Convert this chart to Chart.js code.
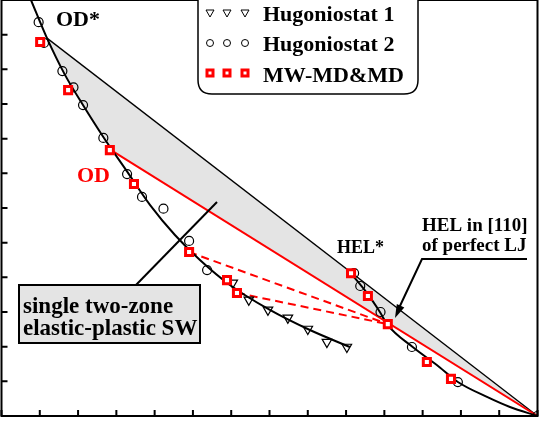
<!DOCTYPE html>
<html>
<head>
<meta charset="utf-8">
<script src="https://cdn.jsdelivr.net/npm/chart.js@4.4.0/dist/chart.umd.min.js"></script>
<style>
  html, body { margin: 0; padding: 0; background: #fff; }
</style>
</head>
<body>
<canvas id="chart" width="543" height="421"></canvas>
<script>
// axis ticks (no labels on the original, only inward tick marks)
const xTicks = [0, 1, 2, 3, 4, 5, 6, 7, 8, 9, 10, 11, 12, 13, 14];
const yTicks = [0, 1, 2, 3, 4, 5, 6, 7, 8, 9, 10, 11, 12];

// Hugoniostat 1 (down triangles)
const hugo1X = [6.04, 6.46, 6.96, 7.48, 8.00, 8.50, 9.02];
const hugo1Y = [3.84, 3.35, 3.06, 2.83, 2.51, 2.13, 1.99];

// Hugoniostat 2 (open circles)
const hugo2X = [0.97, 1.11, 1.59, 1.88, 2.13, 2.66, 3.28, 3.67, 4.23, 4.90, 5.37, 9.21, 9.37, 9.90, 10.72, 11.92, 14.0];
const hugo2Y = [11.36, 10.76, 9.95, 9.48, 8.97, 8.02, 6.98, 6.32, 5.98, 5.05, 4.21, 4.12, 3.75, 3.00, 1.99, 0.98, 0];

// MW-MD&MD (red squares)
const mdX = [1.01, 1.74, 2.83, 3.46, 4.90, 5.89, 6.15, 9.13, 9.57, 10.09, 11.11, 11.74];
const mdY = [10.79, 9.40, 7.67, 6.69, 4.73, 3.92, 3.55, 4.12, 3.46, 2.65, 1.56, 1.07];

// plastic branch of the Hugoniot (black curve, top-left)
const plasticX = [0.77, 1.188, 1.658, 2.128, 2.676, 3.251, 3.877, 4.530, 5.183, 5.966, 7.010, 8.055, 9.099];
const plasticY = [12.0, 10.90, 9.84, 8.97, 8.02, 7.10, 6.09, 5.22, 4.50, 3.78, 3.06, 2.48, 1.99];

// elastic branch of the Hugoniot (black curve, bottom-right)
const elasticX = [9.099, 9.543, 9.883, 10.09, 10.74, 11.37, 11.92, 12.68, 13.28, 14.0];
const elasticY = [4.15, 3.55, 3.00, 2.62, 1.99, 1.47, 0.98, 0.55, 0.26, 0];

// Rayleigh lines: OD* -> origin (black), OD -> origin (red)
const odStarX = [1.188, 14.0];
const odStarY = [10.90, 0];
const odX = [2.86, 14.0];
const odY = [7.67, 0];

// lower edge of the grey zone: plastic curve from OD* to OD, then the red line
const zoneX = [1.188, 1.658, 2.128, 2.676, 2.86, 14.0];
const zoneY = [10.90, 9.84, 8.97, 8.02, 7.67, 0];

// two-zone shock waves (red dashed) ending at the HEL
const sw1X = [4.90, 10.09];
const sw1Y = [4.73, 2.65];
const sw2X = [6.15, 10.09];
const sw2Y = [3.55, 2.65];

const pts = (xs, ys) => xs.map((x, i) => ({ x, y: ys[i] }));

const SERIF = '"Liberation Serif", "DejaVu Serif", serif';

const decor = {
  id: 'decor',
  afterDatasetsDraw(chart) {
    const { ctx, chartArea: a, scales: { x, y } } = chart;
    ctx.save();

    // frame + inward ticks
    ctx.strokeStyle = '#000';
    ctx.lineWidth = 2;
    ctx.strokeRect(a.left, a.top, a.right - a.left, a.bottom - a.top);
    ctx.beginPath();
    xTicks.forEach(v => {
      const px = x.getPixelForValue(v);
      ctx.moveTo(px, a.bottom);
      ctx.lineTo(px, a.bottom - 6);
    });
    yTicks.forEach(v => {
      const py = y.getPixelForValue(v);
      ctx.moveTo(a.left, py);
      ctx.lineTo(a.left + 6, py);
    });
    ctx.stroke();

    // pointer to the two-zone SW
    ctx.lineWidth = 2;
    ctx.beginPath();
    ctx.moveTo(135, 286);
    ctx.lineTo(217, 202);
    ctx.stroke();

    // box "single two-zone elastic-plastic SW"
    ctx.fillStyle = '#e4e4e4';
    ctx.fillRect(19, 285, 181, 58);
    ctx.strokeRect(19, 285, 181, 58);
    ctx.fillStyle = '#000';
    ctx.font = 'bold 23px ' + SERIF;
    ctx.textBaseline = 'alphabetic';
    ctx.fillText('single two-zone', 23, 313);
    ctx.fillText('elastic-plastic SW', 23, 335);

    // arrow "HEL in [110] of perfect LJ"
    ctx.beginPath();
    ctx.moveTo(527, 259);
    ctx.lineTo(422, 259);
    ctx.lineTo(399, 308);
    ctx.stroke();
    const ang = Math.atan2(318 - 259, 395 - 422);
    ctx.beginPath();
    ctx.moveTo(395, 318);
    ctx.lineTo(395 - 14 * Math.cos(ang - 0.3), 318 - 14 * Math.sin(ang - 0.3));
    ctx.lineTo(395 - 14 * Math.cos(ang + 0.3), 318 - 14 * Math.sin(ang + 0.3));
    ctx.closePath();
    ctx.fill();

    ctx.font = 'bold 19px ' + SERIF;
    ctx.fillText('HEL in [110]', 422, 231);
    ctx.fillText('of perfect LJ', 422, 251);

    ctx.font = 'bold 18px ' + SERIF;
    ctx.fillText('HEL*', 337, 253);

    ctx.font = 'bold 22px ' + SERIF;
    ctx.fillText('OD*', 56, 26);
    ctx.fillStyle = '#ff0000';
    ctx.fillText('OD', 77, 182);

    // legend box (top is cut by the canvas edge)
    const L = 198, R = 418, T = -20, B = 94, rr = 14;
    ctx.beginPath();
    ctx.moveTo(L + rr, T);
    ctx.lineTo(R - rr, T);
    ctx.quadraticCurveTo(R, T, R, T + rr);
    ctx.lineTo(R, B - rr);
    ctx.quadraticCurveTo(R, B, R - rr, B);
    ctx.lineTo(L + rr, B);
    ctx.quadraticCurveTo(L, B, L, B - rr);
    ctx.lineTo(L, T + rr);
    ctx.quadraticCurveTo(L, T, L + rr, T);
    ctx.fillStyle = '#fff';
    ctx.fill();
    ctx.lineWidth = 1.5;
    ctx.strokeStyle = '#000';
    ctx.stroke();

    const cols = [210, 227, 245];
    ctx.lineWidth = 1;
    cols.forEach(cx => {
      ctx.beginPath();
      ctx.moveTo(cx - 4, 10);
      ctx.lineTo(cx + 4, 10);
      ctx.lineTo(cx, 17);
      ctx.closePath();
      ctx.stroke();
      ctx.beginPath();
      ctx.arc(cx, 43, 3.5, 0, Math.PI * 2);
      ctx.stroke();
      ctx.fillStyle = '#ff0000';
      ctx.fillRect(cx - 4.5, 68.5, 9, 9);
      ctx.fillStyle = '#fff';
      ctx.fillRect(cx - 1.5, 71.5, 3, 3);
    });
    ctx.fillStyle = '#000';
    ctx.font = 'bold 22px ' + SERIF;
    ctx.fillText('Hugoniostat 1', 263, 21);
    ctx.fillText('Hugoniostat 2', 263, 51);
    ctx.fillText('MW-MD&MD', 263, 82);

    ctx.restore();
  }
};

const lineDs = (data, color, width, extra) => Object.assign({
  data, showLine: true, borderColor: color, borderWidth: width,
  pointRadius: 0, fill: false, backgroundColor: 'transparent'
}, extra || {});

new Chart(document.getElementById('chart').getContext('2d'), {
  type: 'scatter',
  data: {
    datasets: [
      {
        label: 'MW-MD&MD', data: pts(mdX, mdY),
        pointStyle: 'rect', pointRadius: 5, borderWidth: 3,
        borderColor: '#ff0000', backgroundColor: '#ffffff'
      },
      {
        label: 'Hugoniostat 2', data: pts(hugo2X, hugo2Y),
        pointStyle: 'circle', pointRadius: 4.5, borderWidth: 1.2,
        borderColor: '#000', backgroundColor: 'transparent'
      },
      {
        label: 'Hugoniostat 1', data: pts(hugo1X, hugo1Y),
        pointStyle: 'triangle', rotation: 180, pointRadius: 5.5, borderWidth: 1.2,
        borderColor: '#000', backgroundColor: 'transparent'
      },
      lineDs(pts(plasticX, plasticY), '#000', 2, { cubicInterpolationMode: 'monotone' }),
      lineDs(pts(elasticX, elasticY), '#000', 2, { cubicInterpolationMode: 'monotone' }),
      lineDs(pts(sw1X, sw1Y), '#ff0000', 2, { borderDash: [8, 5] }),
      lineDs(pts(sw2X, sw2Y), '#ff0000', 2, { borderDash: [8, 5] }),
      lineDs(pts(odX, odY), '#ff0000', 2),
      lineDs(pts(odStarX, odStarY), '#000', 1.3, { fill: '+1', backgroundColor: '#e4e4e4' }),
      lineDs(pts(zoneX, zoneY), 'transparent', 0)
    ]
  },
  options: {
    responsive: false,
    animation: false,
    devicePixelRatio: 1,
    layout: { autoPadding: false, padding: { left: 1.5, right: 5.5, top: 0, bottom: 5 } },
    scales: {
      x: { type: 'linear', min: 0, max: 14, display: false },
      y: { type: 'linear', min: 0, max: 12, display: false }
    },
    plugins: {
      legend: { display: false },
      tooltip: { enabled: false },
      filler: { drawTime: 'beforeDatasetsDraw' }
    }
  },
  plugins: [decor]
});
</script>
</body>
</html>
